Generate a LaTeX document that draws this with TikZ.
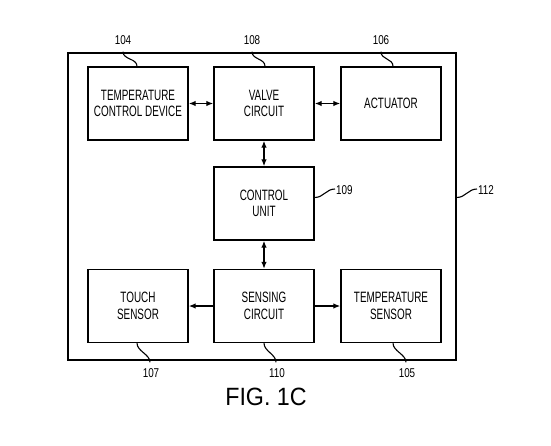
\documentclass[tikz,border=0pt]{standalone}
\usepackage{fontspec}
\setmainfont{Liberation Sans}[FakeStretch=0.66]
\newfontfamily\numfont{Liberation Sans}[FakeStretch=0.77]
\newfontfamily\figfont{Liberation Sans}[FakeStretch=0.93]
\usetikzlibrary{arrows.meta,calc}
\begin{document}
\begin{tikzpicture}[x=1pt,y=-1pt,
  blk/.style={draw, line width=1.4pt, minimum width=100pt, minimum height=73pt,
    inner sep=0pt, align=center, font=\fontsize{15}{16.5}\selectfont},
  conn/.style={line width=1.3pt, {Latex[length=7pt,width=5.5pt]}-{Latex[length=7pt,width=5.5pt]}},
  oneway/.style={line width=1.3pt, -{Latex[length=7pt,width=5.5pt]}},
  lead/.style={line width=1.1pt},
  num/.style={inner sep=1pt, font=\numfont\fontsize{12.8}{14}\selectfont}
]
\useasboundingbox (0,0) rectangle (551,445);
% outer frame
\node[draw, line width=1.4pt, minimum width=388pt, minimum height=307pt, inner sep=0pt] (outer) at (262,206.5) {};
% blocks
\node[blk] (tcd) at (138,103.5) {TEMPERATURE\\CONTROL DEVICE};
\node[blk] (valve) at (264,103.5) {VALVE\\CIRCUIT};
\node[blk] (act) at (391,103.5) {ACTUATOR};
\node[blk] (ctrl) at (264,203.5) {CONTROL\\UNIT};
\node[blk] (touch) at (138,306) {TOUCH\\SENSOR};
\node[blk] (sens) at (264,306) {SENSING\\CIRCUIT};
\node[blk] (temp) at (391,306) {TEMPERATURE\\SENSOR};
% connectors
\draw[conn] (tcd) -- (valve);
\draw[conn] (valve) -- (act);
\draw[conn] (valve) -- (ctrl);
\draw[conn] (ctrl) -- (sens);
\draw[oneway] (sens) -- (touch);
\draw[oneway] (sens) -- (temp);
% reference numerals
\node[num] (l104) at (123,40) {104};
\node[num] (l108) at (252,40) {108};
\node[num] (l106) at (381,40) {106};
\node[num, anchor=west] (l109) at (335,190) {109};
\node[num, anchor=west] (l112) at (477,190) {112};
\node[num] (l107) at (151,373) {107};
\node[num] (l110) at (277,373) {110};
\node[num] (l105) at (407,373) {105};
% leaders
\draw[lead] ($(tcd.north)+(-1,0)$) .. controls +(0,-8) and +(0,8) .. ($(l104.south)+(0,6)$);
\draw[lead] ($(valve.north)+(1,0)$) .. controls +(0,-8) and +(0,8) .. ($(l108.south)+(0,6)$);
\draw[lead] ($(act.north)+(2,0)$) .. controls +(0,-8) and +(0,8) .. ($(l106.south)+(0,6)$);
\draw[lead] ($(ctrl.east)+(0,-6)$) .. controls +(9,0) and +(-9,0) .. ($(l109.west)+(0,-1)$);
\draw[lead] ($(outer.east)+(0,-9)$) .. controls +(9,0) and +(-9,0) .. ($(l112.west)+(0,-1)$);
\draw[lead] ($(touch.south)+(-1,0)$) .. controls +(0,8) and +(0,-8) .. ($(l107.north)+(-1,-5)$);
\draw[lead] ($(sens.south)+(0,0)$) .. controls +(0,8) and +(0,-8) .. ($(l110.north)+(-1,-5)$);
\draw[lead] ($(temp.south)+(2,0)$) .. controls +(0,8) and +(0,-8) .. ($(l105.north)+(-1,-5)$);
% caption
\node[font=\figfont\fontsize{25}{28}\selectfont] (fig) at (266,397) {FIG. 1C};
\end{tikzpicture}
\end{document}
